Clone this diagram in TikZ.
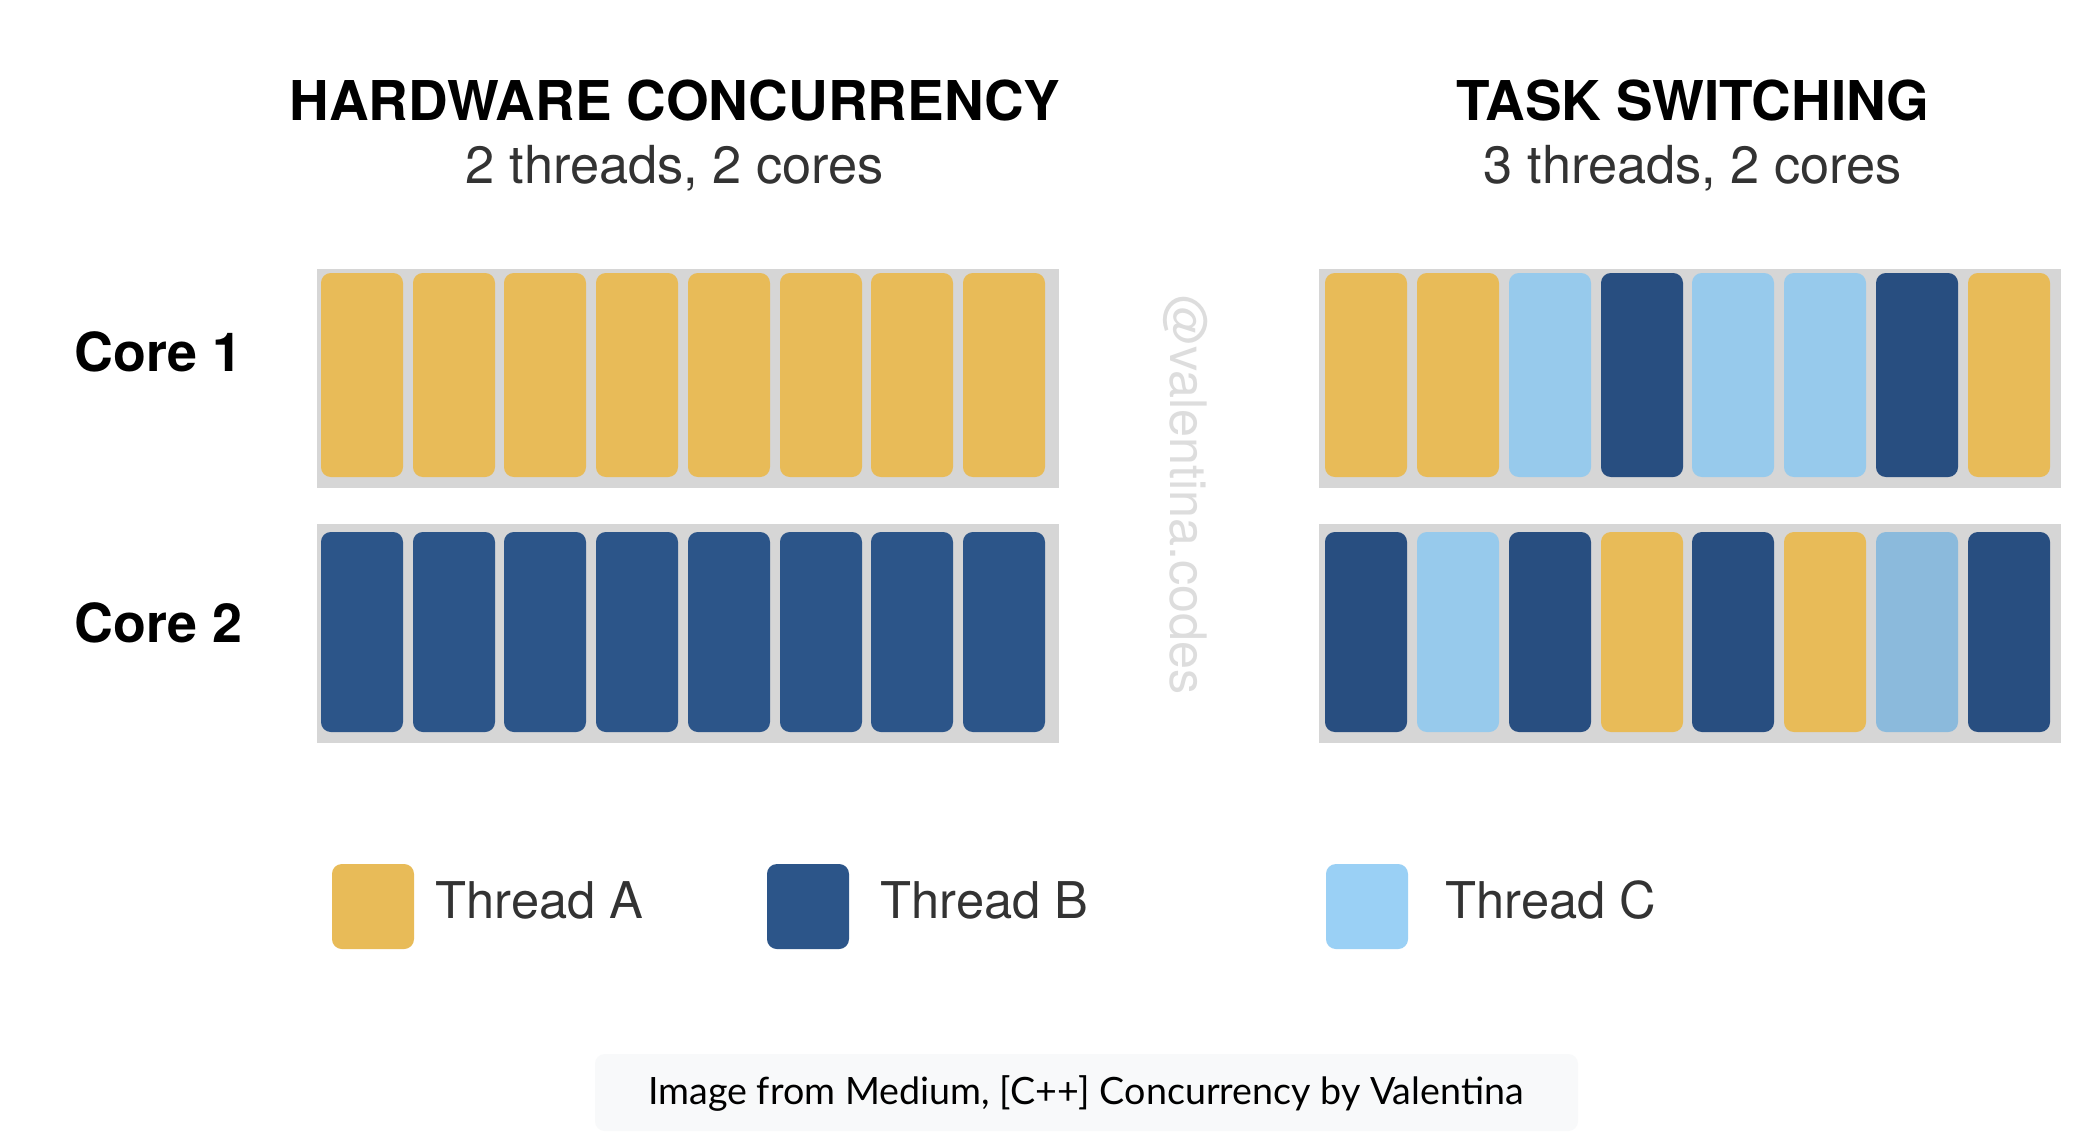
\documentclass[tikz,border=0pt]{standalone}
\usepackage{fontspec}
\setmainfont{TeX Gyre Heros}
\newfontfamily\capfont{Lato}
\usetikzlibrary{positioning}
\definecolor{thrA}{HTML}{E8BB58}
\definecolor{thrB}{HTML}{2C5589}
\definecolor{thrBd}{HTML}{284E80}
\definecolor{thrC}{HTML}{97CAEC}
\definecolor{thrCd}{HTML}{8BBADC}
\definecolor{thrCl}{HTML}{9AD0F5}
\definecolor{coregray}{HTML}{D6D6D6}
\definecolor{capbg}{HTML}{F8F9FA}
\definecolor{subgray}{HTML}{333333}
\definecolor{markgray}{HTML}{DDDDDD}
% one time slice of a core: (left, top, height) colour
\def\slot(#1,#2,#3)#4{\fill[#4, rounded corners=2.8pt] (#1,#2) rectangle ++(82,#3);}

\begin{document}
\begin{tikzpicture}[x=0.01cm, y=-0.01cm,
    headfont/.style={font=\fontsize{15.6}{18}\selectfont\bfseries, text=black},
    subfont/.style={font=\fontsize{14.9}{18}\selectfont, text=subgray},
    corefont/.style={font=\fontsize{15.3}{18}\selectfont\bfseries, text=black, anchor=west, inner sep=0pt},
    legfont/.style={font=\fontsize{14.4}{18}\selectfont, text=subgray, anchor=west, inner sep=0pt}]
			%%%%% START %%%%%
			\useasboundingbox[fill=white] (0, 0) rectangle (2100, 1138);
			
			% headings
			\node[headfont] (hwhead) at (675, 100) {HARDWARE CONCURRENCY};
			\node[subfont] (hwsub) at (675, 168) {2 threads, 2 cores};
			\node[headfont] (tshead) at (1693, 100) {TASK SWITCHING};
			\node[subfont] (tssub) at (1693, 168) {3 threads, 2 cores};
			
			% core labels
			\node[corefont] (coreone) at (74, 352) {Core 1};
			\node[corefont] (coretwo) at (74, 623) {Core 2};
			
			% core backgrounds
			\fill[coregray] (317, 269) rectangle (1059, 488);
			\fill[coregray] (317, 524) rectangle (1059, 743);
			\fill[coregray] (1319, 269) rectangle (2061, 488);
			\fill[coregray] (1319, 524) rectangle (2061, 743);
			
			% hardware concurrency, core 1
			\slot(321,273,204){thrA}
			\slot(413,273,204){thrA}
			\slot(504,273,204){thrA}
			\slot(596,273,204){thrA}
			\slot(688,273,204){thrA}
			\slot(780,273,204){thrA}
			\slot(871,273,204){thrA}
			\slot(963,273,204){thrA}
			
			% hardware concurrency, core 2
			\slot(321,532,200){thrB}
			\slot(413,532,200){thrB}
			\slot(504,532,200){thrB}
			\slot(596,532,200){thrB}
			\slot(688,532,200){thrB}
			\slot(780,532,200){thrB}
			\slot(871,532,200){thrB}
			\slot(963,532,200){thrB}
			
			% task switching, core 1
			\slot(1325,273,204){thrA}
			\slot(1417,273,204){thrA}
			\slot(1509,273,204){thrC}
			\slot(1601,273,204){thrBd}
			\slot(1692,273,204){thrC}
			\slot(1784,273,204){thrC}
			\slot(1876,273,204){thrBd}
			\slot(1968,273,204){thrA}
			
			% task switching, core 2
			\slot(1325,532,200){thrBd}
			\slot(1417,532,200){thrC}
			\slot(1509,532,200){thrBd}
			\slot(1601,532,200){thrA}
			\slot(1692,532,200){thrBd}
			\slot(1784,532,200){thrA}
			\slot(1876,532,200){thrCd}
			\slot(1968,532,200){thrBd}
			
			% watermark
			\node[rotate=-90, font=\fontsize{14.3}{18}\selectfont, text=markgray] (mark) at (1186, 495) {@valentina.codes};
			
			% legend
			\slot(332,864,85){thrA}
			\node[legfont] (legA) at (435, 900) {Thread A};
			\slot(767,864,85){thrB}
			\node[legfont] (legB) at (880, 900) {Thread B};
			\slot(1326,864,85){thrCl}
			\node[legfont] (legC) at (1445, 900) {Thread C};
			
			% caption
			\fill[capbg, rounded corners=2.8pt] (595, 1054) rectangle (1578, 1131);
			\node[font=\capfont\fontsize{10.7}{13}\selectfont, text=black] (caption) at (1086, 1093) {Image from Medium, [C++] Concurrency by Valentina};
			%%%%% END %%%%%
\end{tikzpicture}
\end{document}
